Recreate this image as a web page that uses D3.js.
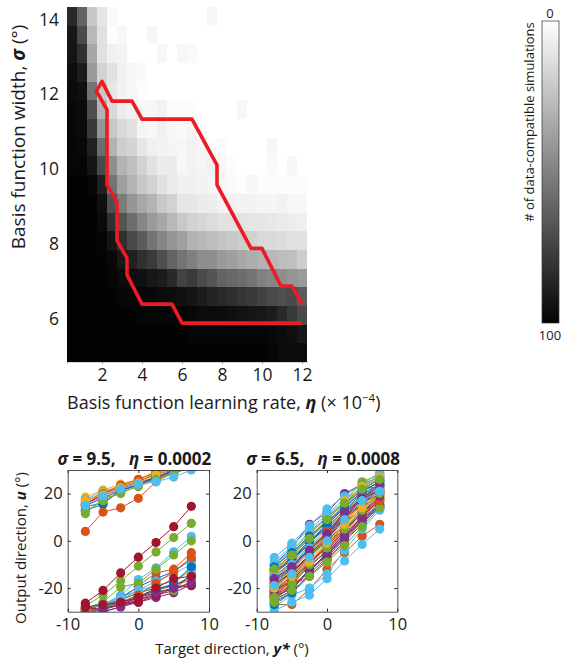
<!DOCTYPE html>
<html>
<head>
<meta charset="utf-8">
<script src="https://cdn.jsdelivr.net/npm/d3@7"></script>
<style>
  body { margin: 0; background: #fff; }
  text { font-family: "Open Sans", sans-serif; fill: #1a1a1a; }
</style>
</head>
<body>
<div class="holder"></div>
<script>
// ---- heatmap data: rows sigma 14 -> 5, cols eta 0.5 -> 12 (x 1e-4)
var etaVals = d3.range(24).map(function(i){ return 0.5 + 0.5*i })
var sigmaVals = d3.range(19).map(function(i){ return 14 - 0.5*i })

// darkness 0 (white) .. 100 (black)
var heatRows = [
  [85,62,22,10,2,0,0,0,0,0,0,0, 0,0,3,0,0,0,0,0,0,0,0,0],
  [92,72,28,12,1,3,0,0,3,0,0,0, 0,0,0,0,0,0,0,0,0,0,0,0],
  [93,82,35,12,6,5,0,0,0,3,0,3, 2,0,0,0,0,0,0,0,0,0,0,0],
  [96,90,40,18,12,6,3,2,0,0,0,0, 0,0,0,0,0,0,0,0,0,0,0,0],
  [97,95,55,22,10,5,3,1,0,0,0,0, 0,0,0,0,0,0,0,0,0,0,0,0],
  [98,97,70,30,15,8,5,3,3,5,1,1, 1,0,0,0,0,3,0,0,0,0,0,0],
  [98,97,78,42,22,15,12,4,3,6,3,2, 4,1,0,0,0,0,0,0,0,0,0,0],
  [99,98,88,58,30,20,17,10,6,5,4,3, 5,4,1,2,0,0,0,0,3,0,0,0],
  [99,99,93,72,45,30,25,18,12,8,8,3, 5,4,6,3,1,0,0,0,2,0,3,0],
  [100,100,99,88,55,38,30,22,18,12,8,6, 6,5,4,3,2,1,3,1,1,1,1,1],
  [100,100,100,95,70,52,42,35,30,22,18,10, 10,8,7,5,6,5,5,4,4,5,3,3],
  [100,100,100,97,82,68,58,48,40,35,28,22, 18,16,14,12,12,11,10,10,9,8,7,6],
  [100,100,100,99,93,82,72,65,55,48,42,38, 30,28,26,24,22,20,18,15,15,14,12,12],
  [100,100,100,100,98,92,88,82,78,70,62,55, 50,45,45,40,38,35,32,30,28,26,25,20],
  [100,100,100,100,99,97,96,95,92,90,85,75, 78,72,68,62,60,58,55,50,48,45,42,40],
  [100,100,100,100,100,99,99,98,98,97,96,95, 93,90,87,85,83,80,78,75,72,70,72,65],
  [100,100,100,100,100,100,100,99,99,99,99,99, 98,97,97,96,95,94,93,92,90,85,78,72],
  [100,100,100,100,100,100,100,100,100,100,100,100, 99,99,99,99,99,99,99,99,98,97,95,92],
  [100,100,100,100,100,100,100,100,100,100,100,100, 100,100,100,100,100,100,100,100,99,97,97,97]
]

// red contour (eta, sigma)
var contourEta   = [12.0, 11.5, 10.95, 10.0, 9.45, 7.75, 7.75, 6.5, 4.0, 3.5, 2.5, 2.0, 1.72, 2.25, 2.25, 2.75, 2.75, 3.25, 3.25, 4.0, 5.5, 6.0, 12.0]
var contourSigma = [6.3, 6.78, 6.78, 7.79, 7.79, 9.49, 10.02, 11.25, 11.25, 11.73, 11.73, 12.26, 12.0, 11.5, 9.49, 9.04, 8.0, 7.53, 7.08, 6.3, 6.3, 5.79, 5.79]

var etaTicks = [2, 4, 6, 8, 10, 12]
var sigmaTicks = [6, 8, 10, 12, 14]

// ---- simulation panels
var targets = [-7.5, -5, -2.5, 0, 2.5, 5, 7.5]
var dirTicksX = [-10, 0, 10]
var dirTicksY = [-20, 0, 20]

var leftRuns = [
  [13, 15.5, 22, 24.5, 27, 29.5, 32],
  [4, 12.2, 14, 18, 25, 29, 31],
  [18.5, 21.5, 24, 26, 29.5, 31, 33],
  [-31, -30, -28, -25, -22, -20, -18],
  [-27.5, -23, -17, -10.7, -4.7, 1.4, 7.4],
  [-29.5, -27, -23, -16.4, -11.4, -4.7, 1.9],
  [-26.4, -21, -13.6, -6.9, -0.7, 6, 14.6],
  [-29, -27, -24, -19.5, -16, -13, -8],
  [-29.5, -27, -25, -19, -13.6, -12, -5],
  [-30, -28, -26, -23, -21, -18, -17],
  [16, 19, 22, 24, 27, 30, 32],
  [-28.5, -26, -19.5, -18, -12, -6, 0],
  [17.5, 21, 23, 25.5, 28, 30, 32],
  [15.5, 20, 22.5, 25, 28.5, 30, 33],
  [14.5, 16, 21, 24, 26.5, 29, 31],
  [-30, -29, -27, -24, -21, -19, -16],
  [16.5, 20.5, 23.5, 25, 29, 31, 33],
  [-32, -30, -28, -26, -24, -22, -18.5],
  [11.5, 18, 20, 23.5, 26, 29, 31],
  [-30, -28, -25, -21, -17, -14, -10],
  [-29, -28.5, -27, -26, -23, -21, -14],
  [-30, -28, -25, -22, -20, -19, -15],
  [17, 20, 23.5, 26, 29, 31, 34],
  [-30, -29, -27, -22, -19, -17, -13],
  [15, 18, 21.5, 23.5, 27, 29.5, 32],
  [-30, -29, -26, -23, -21, -21, -17],
  [-29, -27, -24, -21, -19, -17, -12],
  [-28, -29, -27, -25, -23, -20, -19],
  [-31, -28.5, -26, -24, -21, -18, -11],
  [-30.5, -28, -26, -23, -18, -13, -7],
  [17, 19.5, 22.5, 24.5, 28, 30.5, 33],
  [-31, -29, -27, -24, -22, -20, -18],
  [12.5, 17, 20.5, 23, 26, 28.5, 31],
  [15, 19, 22, 24, 25, 27, 30],
  [-28, -27, -26, -24, -20, -16, -15]
]

var rightRuns = [
  [-18, -12, -5, 3, 10, 17, 22],
  [-14, -7, 0, 5, 12, 19, 24],
  [-20, -15, -8, -1, 6, 13, 16],
  [-10, -3, 7, 12, 20, 24, 27],
  [-19, -14, -6, 3.5, 11, 22, 23],
  [-7, -1, 6.5, 13.5, 19, 24, 29],
  [-22, -16, -10, -2, 7, 14, 20],
  [-24, -20, -12, -6, 2, 10, 15],
  [-27, -27, -20.5, -12, -5, 2, 7],
  [-16, -10, -3, 4, 11, 17, 21],
  [-12, -6, 1, 8, 15, 22, 26],
  [-21, -16, -9, -1, 5, 13, 19],
  [-29.5, -26, -23, -16, -8.5, -1.5, 5],
  [-20, -13, -7, 0, 7, 16, 21],
  [-15, -9, -1, 6, 13, 20, 24],
  [-13, -7, 3, 10, 16, 21, 27],
  [-23, -18, -11, -4, 3, 11, 17],
  [-25, -21, -12, -6, 2, 9, 14],
  [-11, -4, 3, 10, 17, 25, 28],
  [-17, -11, -4, 3, 9, 16, 21],
  [-18, -14, -6, 1, 10, 16, 22],
  [-26, -22, -14, -7, 1, 8, 14],
  [-24, -19, -10, -5, 2, 8, 17],
  [-19, -12, -5, 2, 9, 15, 20],
  [-14, -8, -1, 7, 14, 21, 25],
  [-15, -10, -2, 5, 13, 19, 24],
  [-28, -23, -20, -14, -4, 5, 13],
  [-21, -17, -9, -3, 4, 12, 18],
  [-27, -22, -15, -8, 0, 7, 15],
  [-22, -16, -8, -3, 4, 12, 16],
  [-18, -13, -6, 1, 8, 15, 19],
  [-16, -11, -3, 4, 12, 18, 23],
  [-12, -6, 2, 9, 16, 23, 26],
  [-9, -2, 5, 11, 18, 22, 28],
  [-23, -19, -13, -5, 3, 10, 18],
  [-13, -8, 0, 7, 14, 21, 25],
  [-25, -19, -15, -8, -1, 9, 18],
  [-20, -14, -7, 0, 6, 14, 18],
  [-24, -20, -13, -6, 1, 9, 15],
  [-26, -21, -15, -9, -2, 6, 14],
  [-10, -4, 4, 10, 17, 23, 28],
  [-21, -15, -7, 1, 9, 16, 20],
  [-17, -12, -3, 3, 11, 18, 23],
  [-22, -17, -9, -2, 5, 12, 17],
  [-13, -6, 2, 9, 17, 23, 27],
  [-23, -17, -11, -4, 4, 12, 19],
  [-24, -18, -10, -3, 5, 13, 20],
  [-15, -10, -3, 4, 11, 19, 23],
  [-19, -13, -6, 2, 10, 18, 21],
  [-11, -5, 2, 8, 14, 21, 25],
  [-17, -11, -4, 4, 11, 18, 22],
  [-20, -15, -9, -1, 7, 14, 21],
  [-16, -11, -4, 3, 12, 18, 24],
  [-12, -6, 1, 9, 16, 22, 26],
  [-19, -14, -7, 0, 9, 17, 21]
]

var lineColors = ['#0072BD', '#D95319', '#EDB120', '#7E2F8E', '#77AC30', '#4DBEEE', '#A2142F']

var svg = d3.select('.holder')
  .append('svg')
  .attr('width', 562)
  .attr('height', 660)

// ================= heatmap =================
var hx = d3.scaleLinear().domain([0.25, 12.25]).range([67, 307])
var hy = d3.scaleLinear().domain([4.75, 14.25]).range([362, 7])
var grey = d3.scaleLinear().domain([0, 100]).range(['#ffffff', '#030303'])

var cells = []
heatRows.forEach(function(row, i){
  row.forEach(function(v, j){
    cells.push({ eta: etaVals[j], sigma: sigmaVals[i], v: v })
  })
})

svg.append('g').selectAll('rect')
  .data(cells)
  .enter()
  .append('rect')
  .attr('x', function(d){ return hx(d.eta - 0.25) })
  .attr('y', function(d){ return hy(d.sigma + 0.25) })
  .attr('width', hx(0.75) - hx(0.25) + 0.4)
  .attr('height', hy(5) - hy(5.5) + 0.4)
  .attr('fill', function(d){ return grey(d.v) })
  .attr('shape-rendering', 'crispEdges')

var contourPts = contourEta.map(function(e, i){ return [e, contourSigma[i]] })
svg.append('path')
  .attr('d', d3.line().x(function(d){ return hx(d[0]) }).y(function(d){ return hy(d[1]) })(contourPts))
  .attr('fill', 'none')
  .attr('stroke', '#EC1C24')
  .attr('stroke-width', 3.6)
  .attr('stroke-linejoin', 'round')

var hxAxis = svg.append('g')
  .attr('transform', 'translate(0,362)')
  .call(d3.axisBottom(hx).tickValues(etaTicks).tickSize(2).tickPadding(5).tickFormat(d3.format('d')))
hxAxis.select('.domain').attr('stroke', '#bbb').attr('stroke-width', 0.6)
hxAxis.selectAll('.tick line').attr('stroke', '#999')
hxAxis.selectAll('text').style('font-size', '17.5px').attr('fill', '#1a1a1a')

var hyAxis = svg.append('g')
  .attr('transform', 'translate(67,0)')
  .call(d3.axisLeft(hy).tickValues(sigmaTicks).tickSize(0).tickPadding(8).tickFormat(d3.format('d')))
hyAxis.select('.domain').remove()
hyAxis.selectAll('text').style('font-size', '17.5px').attr('fill', '#1a1a1a').attr('dy', '0.5em')

var hxLabel = svg.append('text')
  .attr('x', 67)
  .attr('y', 409)
  .style('font-size', '18px')
hxLabel.append('tspan').text('Basis function learning rate, ')
hxLabel.append('tspan').text('η').style('font-weight', 'bold').style('font-style', 'italic')
hxLabel.append('tspan').text(' (× 10')
hxLabel.append('tspan').text('−4').attr('dy', -7).style('font-size', '11.5px')
hxLabel.append('tspan').text(')').attr('dy', 7)

var hyLabel = svg.append('text')
  .attr('transform', 'translate(25,137) rotate(-90)')
  .attr('text-anchor', 'middle')
  .style('font-size', '19px')
hyLabel.append('tspan').text('Basis function width, ')
hyLabel.append('tspan').text('σ').style('font-weight', 'bold').style('font-style', 'italic')
hyLabel.append('tspan').text(' (°)')

// ================= colorbar =================
var grad = svg.append('defs').append('linearGradient')
  .attr('id', 'cbar').attr('x1', 0).attr('y1', 0).attr('x2', 0).attr('y2', 1)
grad.append('stop').attr('offset', '0%').attr('stop-color', grey(0))
grad.append('stop').attr('offset', '100%').attr('stop-color', grey(100))

svg.append('rect')
  .attr('x', 542).attr('y', 21).attr('width', 17).attr('height', 302)
  .attr('fill', 'url(#cbar)')
  .attr('stroke', '#333').attr('stroke-width', 0.7)

svg.append('text').attr('x', 550).attr('y', 18).attr('text-anchor', 'middle')
  .style('font-size', '13px').text('0')
svg.append('text').attr('x', 550).attr('y', 340).attr('text-anchor', 'middle')
  .style('font-size', '13px').text('100')
svg.append('text')
  .attr('transform', 'translate(534,122) rotate(-90)')
  .attr('text-anchor', 'middle')
  .style('font-size', '13px')
  .text('# of data-compatible simulations')

// ================= simulation panels =================
function drawPanel(x0, x1, runs, sigmaTxt, etaTxt, id) {
  var x = d3.scaleLinear().domain([-10, 10]).range([x0, x1])
  var y = d3.scaleLinear().domain([-30, 30]).range([611.7, 470])

  svg.append('clipPath').attr('id', id)
    .append('rect').attr('x', x0).attr('y', 470).attr('width', x1 - x0).attr('height', 611.7 - 470)

  var plot = svg.append('g').attr('clip-path', 'url(#' + id + ')')
  var line = d3.line().x(function(d, i){ return x(targets[i]) }).y(function(d){ return y(d) })

  runs.forEach(function(run, k){
    var c = lineColors[k % 7]
    var g = plot.append('g')
    g.append('path').attr('d', line(run)).attr('fill', 'none').attr('stroke', c).attr('stroke-width', 1)
    g.selectAll('circle')
      .data(run)
      .enter()
      .append('circle')
      .attr('cx', function(d, i){ return x(targets[i]) })
      .attr('cy', function(d){ return y(d) })
      .attr('r', 4.6)
      .attr('fill', c)
  })

  var ax = svg.append('g').attr('transform', 'translate(0,611.7)')
    .call(d3.axisBottom(x).tickValues(dirTicksX).tickSizeInner(-3).tickSizeOuter(0).tickPadding(7))
  var axTop = svg.append('g').attr('transform', 'translate(0,470)')
    .call(d3.axisTop(x).tickValues(dirTicksX).tickSizeInner(-3).tickSizeOuter(0).tickFormat(''))
  var ay = svg.append('g').attr('transform', 'translate(' + x0 + ',0)')
    .call(d3.axisLeft(y).tickValues(dirTicksY).tickSizeInner(-3).tickSizeOuter(0).tickPadding(5).tickFormat(d3.format('d')))
  var ayR = svg.append('g').attr('transform', 'translate(' + x1 + ',0)')
    .call(d3.axisRight(y).tickValues(dirTicksY).tickSizeInner(-3).tickSizeOuter(0).tickFormat(''))

  ;[ax, axTop, ay, ayR].forEach(function(a){
    a.select('.domain').attr('stroke', '#262626').attr('stroke-width', 0.8)
    a.selectAll('.tick line').attr('stroke', '#262626')
    a.selectAll('text').style('font-size', '16.5px').attr('fill', '#1a1a1a')
  })
  ax.selectAll('text').text(function(d){ return d < 0 ? '-' + Math.abs(d) : d })
  ay.selectAll('text').text(function(d){ return d < 0 ? '-' + Math.abs(d) : d })

  var t = svg.append('text')
    .attr('x', (x0 + x1) / 2 - 4)
    .attr('y', 465)
    .attr('text-anchor', 'middle')
    .style('font-size', '17px')
    .style('font-weight', 'bold')
  t.append('tspan').text('σ').style('font-style', 'italic')
  t.append('tspan').text(' = ' + sigmaTxt + ',\u00a0\u00a0 ')
  t.append('tspan').text('η').style('font-style', 'italic')
  t.append('tspan').text(' = ' + etaTxt)
}

drawPanel(67.7, 209, leftRuns, '9.5', '0.0002', 'clipL')
drawPanel(256.7, 397.3, rightRuns, '6.5', '0.0008', 'clipR')

var outLabel = svg.append('text')
  .attr('transform', 'translate(26,548) rotate(-90)')
  .attr('text-anchor', 'middle')
  .style('font-size', '15px')
outLabel.append('tspan').text('Output direction, ')
outLabel.append('tspan').text('u').style('font-weight', 'bold').style('font-style', 'italic')
outLabel.append('tspan').text(' (°)')

var tgtLabel = svg.append('text')
  .attr('x', 232)
  .attr('y', 654)
  .attr('text-anchor', 'middle')
  .style('font-size', '15px')
tgtLabel.append('tspan').text('Target direction, ')
tgtLabel.append('tspan').text('y*').style('font-weight', 'bold').style('font-style', 'italic')
tgtLabel.append('tspan').text(' (°)')
</script>
</body>
</html>
